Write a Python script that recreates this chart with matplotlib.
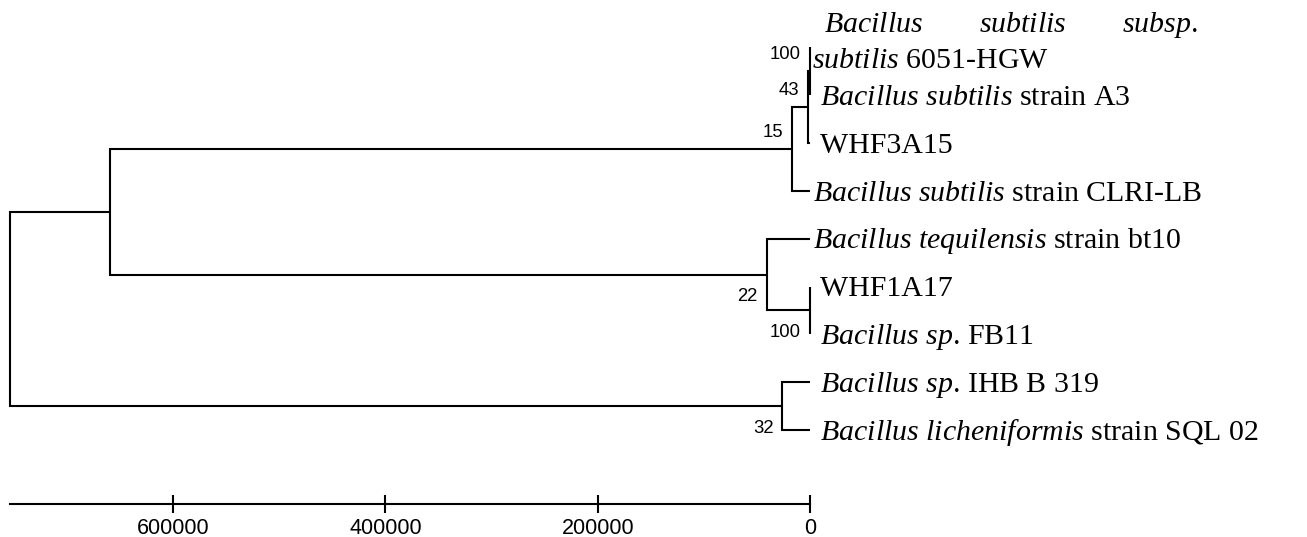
import matplotlib
matplotlib.use("Agg")
import matplotlib.pyplot as plt

plt.rcParams['mathtext.fontset'] = 'custom'
plt.rcParams['mathtext.rm'] = 'Liberation Serif'
plt.rcParams['mathtext.it'] = 'Liberation Serif:italic'

# leaves, top to bottom (first one is a wrapped two-line label)
leaf_labels = [
    None,
    r" $\mathit{Bacillus\ subtilis}$ strain A3",
    " WHF3A15",
    r"$\mathit{Bacillus\ subtilis}$ strain CLRI-LB",
    r"$\mathit{Bacillus\ tequilensis}$ strain bt10",
    " WHF1A17",
    r" $\mathit{Bacillus\ sp}$. FB11",
    r" $\mathit{Bacillus\ sp}$. IHB B 319",
    r" $\mathit{Bacillus\ licheniformis}$ strain SQL 02",
]
first_line_words = [r"$\mathit{Bacillus}$", r"$\mathit{subtilis}$", r"$\mathit{subsp.}$"]
first_second_line = r"$\mathit{subtilis}$ 6051-HGW"

# merges in linkage style: ids 0-8 are leaves, 9+ are earlier merges
merge_a = [0, 9, 10, 5, 4, 11, 7, 14]
merge_b = [1, 2, 3, 6, 12, 13, 8, 15]
heights = [300, 2000, 17000, 0, 40800, 659000, 26000, 754000]
bootstrap = [100, 43, 15, 100, 22, None, 32, None]
boot_side = ["up", "up", "up", "down", "down", None, "down", None]

scale_ticks = [600000, 400000, 200000, 0]

W, H = 1307, 537
FS = 21.5
fig = plt.figure(figsize=(W / 100, H / 100), dpi=100)
ax = fig.add_axes([0, 0, 1, 1])
ax.axis("off")

# 0 sits at x=810px, 200000 units = 212.3px
k = 212.3 / 200000
ax.set_xlim(810 / k, (810 - W) / k)
ax.set_ylim((H - 47) / 47.9, -47 / 47.9)

n = len(leaf_labels)
node_x = [0.0] * n
node_y = [float(i) for i in range(n)]
for a, b, h in zip(merge_a, merge_b, heights):
    ym = (node_y[a] + node_y[b]) / 2
    for c in (a, b):
        ax.plot([node_x[c], h, h], [node_y[c], node_y[c], ym], color="black",
                lw=1.5, solid_joinstyle="miter", solid_capstyle="butt")
    node_x.append(h)
    node_y.append(ym)

# bootstrap values
for i, (b, side) in enumerate(zip(bootstrap, boot_side)):
    if b is None:
        continue
    idx = n + i
    dy = 16 if side == "up" else -22
    ax.annotate(str(b), xy=(node_x[idx], node_y[idx]), xytext=(-9, dy),
                textcoords="offset pixels", ha="right", va="center",
                fontsize=13.3, family="Liberation Sans")

cap = 0.331 * FS / 0.72
lab_kw = dict(textcoords="offset pixels", ha="left", va="baseline",
              fontsize=FS, family="Liberation Serif")
for i, lab in enumerate(leaf_labels):
    if lab is None:
        continue
    ax.annotate(lab, xy=(0, i), xytext=(3, -cap), **lab_kw)

# wrapped, justified first label
ax.annotate(first_second_line, xy=(0, 0), xytext=(2, -11 - cap), **lab_kw)
top_y = 25 - cap
words = [ax.annotate(w, xy=(0, 0), xytext=(0, top_y), **lab_kw)
         for w in first_line_words]
fig.canvas.draw()
r = fig.canvas.get_renderer()
widths = [t.get_window_extent(r).width for t in words]
left, right = 14, 388
gap = (right - left - sum(widths)) / (len(words) - 1)
pos = left
for t, w in zip(words, widths):
    t.set_position((pos, top_y))
    pos += w + gap

# scale bar
x0 = ax.transData.transform((heights[-1], 0))[0]
x1 = ax.transData.transform((0, 0))[0]
sax = fig.add_axes([x0 / W, (H - 504) / H, (x1 - x0) / W, 0.0001])
sax.set_facecolor("none")
for s in ("top", "left", "right"):
    sax.spines[s].set_visible(False)
sax.spines["bottom"].set_linewidth(1.5)
sax.set_xlim(heights[-1], 0)
sax.set_yticks([])
sax.set_xticks(scale_ticks)
sax.set_xticklabels([str(v) for v in scale_ticks])
sax.tick_params(axis="x", direction="inout", length=13.5, width=1.5, pad=3,
                labelsize=15.5)
for t in sax.get_xticklabels():
    t.set_family("Liberation Sans")

fig.savefig("out.png", dpi=100)
